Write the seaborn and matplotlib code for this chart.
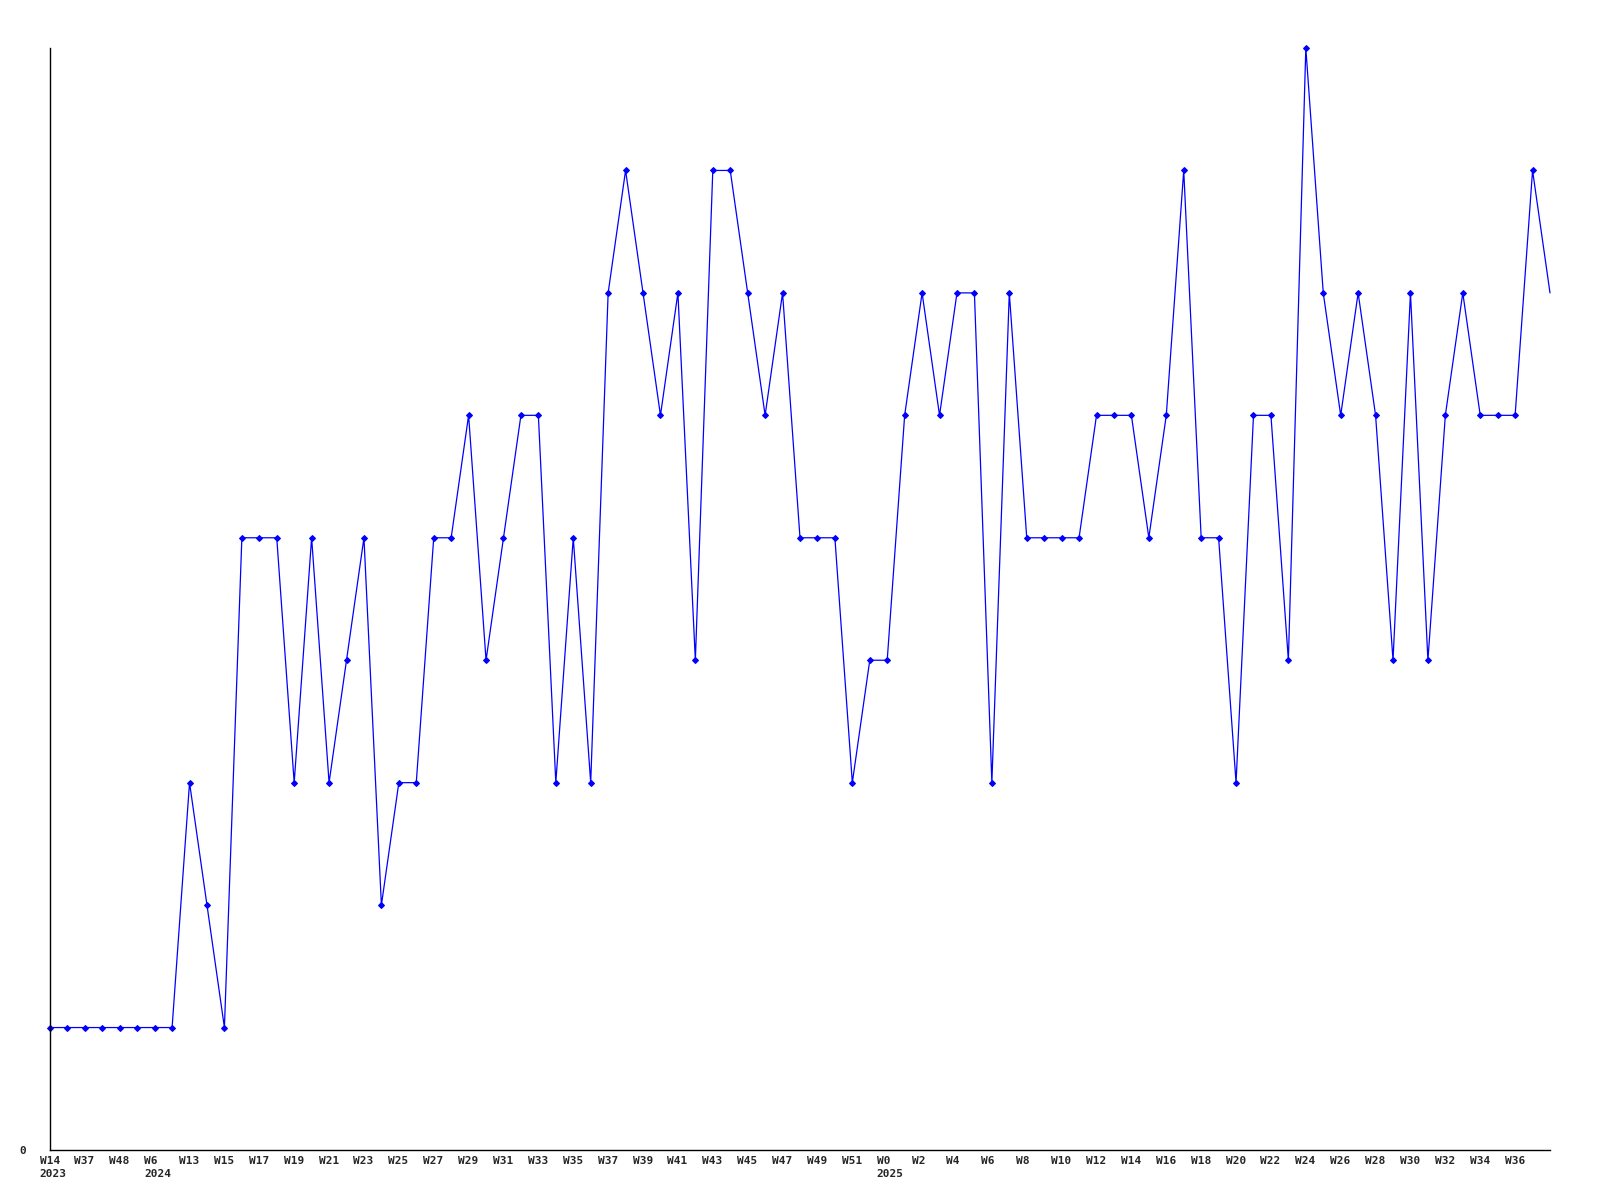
import numpy as np
import pandas as pd
import matplotlib
matplotlib.use("Agg")
import matplotlib.pyplot as plt
import matplotlib.transforms as mtransforms
import seaborn as sns

# weekly counts, one per point on the x axis
values = [1, 1, 1, 1, 1, 1, 1, 1, 3, 2,
          1, 5, 5, 5, 3, 5, 3, 4, 5, 2,
          3, 3, 5, 5, 6, 4, 5, 6, 6, 3,
          5, 3, 7, 8, 7, 6, 7, 4, 8, 8,
          7, 6, 7, 5, 5, 5, 3, 4, 4, 6,
          7, 6, 7, 7, 3, 7, 5, 5, 5, 5,
          6, 6, 6, 5, 6, 8, 5, 5, 3, 6,
          6, 4, 9, 7, 6, 7, 6, 4, 7, 4,
          6, 7, 6, 6, 6, 8, 7]

# labels shown under every second point
tick_labels = ["W14\n2023", "W37", "W48", "W6\n2024", "W13", "W15", "W17", "W19",
               "W21", "W23", "W25", "W27", "W29", "W31", "W33", "W35", "W37",
               "W39", "W41", "W43", "W45", "W47", "W49", "W51", "W0\n2025",
               "W2", "W4", "W6", "W8", "W10", "W12", "W14", "W16", "W18",
               "W20", "W22", "W24", "W26", "W28", "W30", "W32", "W34", "W36"]
y_ticks = [0]
y_tick_labels = ["0"]

df = pd.DataFrame({"idx": np.arange(len(values)), "count": values})

sns.set_style("white")
plt.rcParams['font.family'] = ['DejaVu Sans Mono']

fig = plt.figure(figsize=(16, 12), dpi=100)
ax = fig.add_axes([50 / 1600, 1 - 1150 / 1200, 1500 / 1600, 1102 / 1200])

sns.lineplot(data=df, x="idx", y="count", ax=ax, color="#0000ff", linewidth=0.9,
             marker="D", markersize=3, markeredgewidth=0.8, markeredgecolor="#0000ff",
             markevery=list(range(len(values) - 1)))
# markers sitting on the axes edges stay fully visible
for ln in ax.lines:
    ln.set_clip_on(False)

ax.set_xlim(0, len(values) - 1)
ax.set_ylim(0, 9)
ax.tick_params(axis="x", length=0, pad=4)
ax.tick_params(axis="y", length=0, pad=17)
ax.set_xticks(np.arange(0, 2 * len(tick_labels), 2))
ax.set_xticklabels(tick_labels, fontsize=8, fontweight="bold",
                   ha="left", multialignment="left", linespacing=1.4)
ax.set_yticks(y_ticks)
ax.set_yticklabels(y_tick_labels, fontsize=8, fontweight="bold")
ax.set_xlabel("")
ax.set_ylabel("")

sns.despine(ax=ax, top=True, right=True)
for s in ["left", "bottom"]:
    ax.spines[s].set_color("black")
    ax.spines[s].set_linewidth(1)

# labels start a little left of their point (done last so tick_params can't reset it)
shift = mtransforms.ScaledTranslation(-0.105, 0, fig.dpi_scale_trans)
for lab in ax.get_xticklabels():
    lab.set_transform(lab.get_transform() + shift)

fig.savefig("out.png", dpi=100, facecolor="white")
